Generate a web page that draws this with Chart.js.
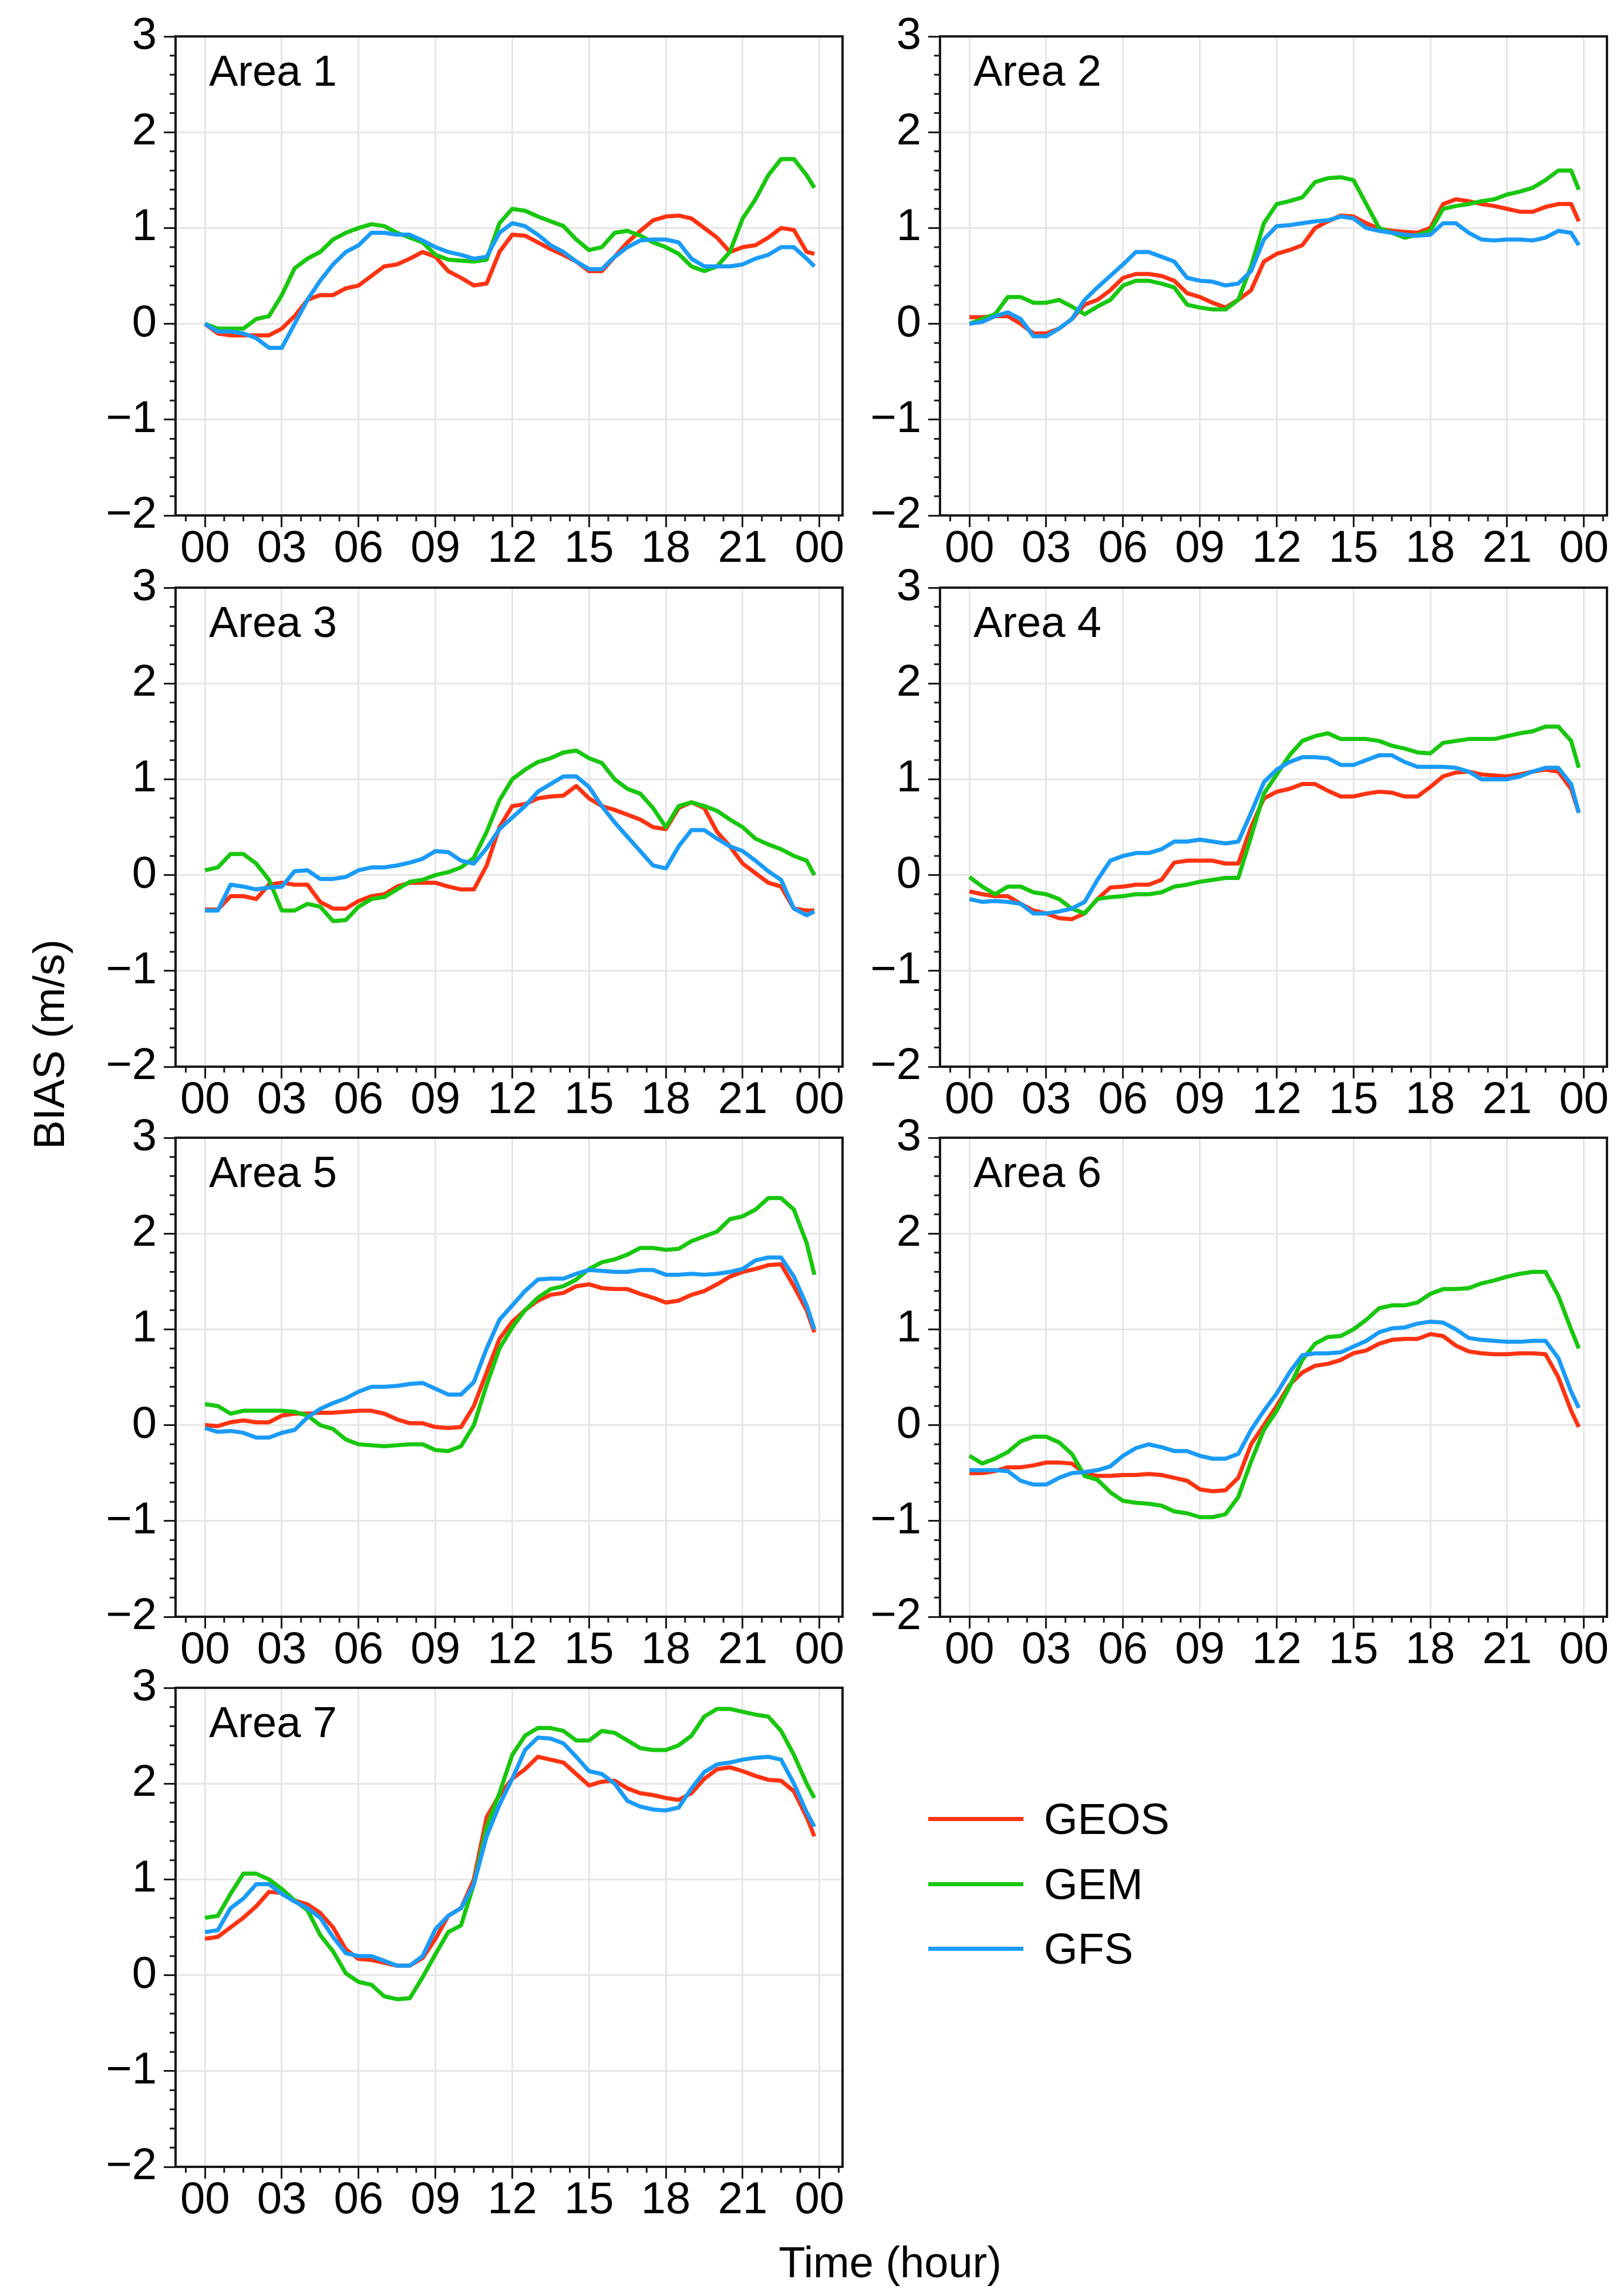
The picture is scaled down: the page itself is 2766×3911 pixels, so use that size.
<!DOCTYPE html>
<html>
<head>
<meta charset="utf-8">
<script src="https://cdn.jsdelivr.net/npm/chart.js@4.4.1/dist/chart.umd.min.js"></script>
<style>
  body { margin: 0; background: #fff; width: 2766px; height: 3911px; position: relative; overflow: hidden;
         font-family: 'Liberation Sans', Arial, sans-serif; }
  .panel { position: absolute; }
  .txt { position: absolute; font-size: 74px; line-height: 74px; color: #000; white-space: nowrap; }
  .key { position: absolute; height: 7px; width: 162px; }
</style>
</head>
<body>
<script>
// Hour of day (x), shared by every series
const hours = [0, 0.5, 1, 1.5, 2, 2.5, 3, 3.5, 4, 4.5, 5, 5.5, 6, 6.5, 7, 7.5, 8, 8.5, 9, 9.5,
  10, 10.5, 11, 11.5, 12, 12.5, 13, 13.5, 14, 14.5, 15, 15.5, 16, 16.5, 17, 17.5, 18, 18.5, 19, 19.5,
  20, 20.5, 21, 21.5, 22, 22.5, 23, 23.5, 23.8];

const xTicks = [0, 3, 6, 9, 12, 15, 18, 21, 24];
const yTicks = [-2, -1, 0, 1, 2, 3];

const areaNames = ['Area 1', 'Area 2', 'Area 3', 'Area 4', 'Area 5', 'Area 6', 'Area 7'];
const modelNames = ['GEOS', 'GEM', 'GFS'];

const area1Geos = [0,-0.1,-0.12,-0.12,-0.12,-0.12,-0.05,0.08,0.25,0.3,0.3,0.37,0.4,0.5,0.6,0.62,0.68,0.75,0.7,0.55,0.48,0.4,0.42,0.75,0.93,0.92,0.85,0.78,0.72,0.65,0.55,0.55,0.7,0.85,0.97,1.08,1.12,1.13,1.1,1.0,0.9,0.75,0.8,0.82,0.9,1.0,0.98,0.75,0.73];
const area1Gem  = [0,-0.05,-0.05,-0.05,0.05,0.08,0.3,0.58,0.68,0.75,0.88,0.95,1.0,1.04,1.02,0.95,0.9,0.85,0.72,0.67,0.66,0.65,0.67,1.05,1.2,1.18,1.12,1.07,1.02,0.88,0.77,0.8,0.95,0.97,0.92,0.85,0.8,0.73,0.6,0.55,0.6,0.75,1.1,1.3,1.55,1.72,1.72,1.55,1.42];
const area1Gfs  = [0,-0.08,-0.08,-0.1,-0.15,-0.25,-0.25,0.0,0.25,0.45,0.62,0.75,0.82,0.95,0.95,0.93,0.93,0.87,0.8,0.75,0.72,0.68,0.7,0.95,1.05,1.02,0.93,0.82,0.75,0.65,0.57,0.57,0.7,0.8,0.87,0.88,0.88,0.85,0.68,0.6,0.6,0.6,0.62,0.68,0.72,0.8,0.8,0.68,0.6];

const area2Geos = [0.07,0.07,0.08,0.08,0.0,-0.1,-0.1,-0.05,0.05,0.2,0.25,0.35,0.48,0.52,0.52,0.5,0.45,0.32,0.28,0.22,0.17,0.25,0.35,0.65,0.73,0.77,0.82,1.0,1.07,1.13,1.12,1.05,0.99,0.97,0.96,0.95,1.0,1.25,1.3,1.28,1.25,1.23,1.2,1.17,1.17,1.22,1.25,1.25,1.07];
const area2Gem  = [0.0,0.05,0.1,0.28,0.28,0.22,0.22,0.25,0.18,0.1,0.18,0.25,0.4,0.45,0.45,0.42,0.38,0.2,0.17,0.15,0.15,0.25,0.6,1.05,1.25,1.28,1.32,1.48,1.52,1.53,1.5,1.25,1.0,0.95,0.9,0.93,0.97,1.2,1.23,1.25,1.28,1.3,1.35,1.38,1.42,1.5,1.6,1.6,1.4];
const area2Gfs  = [0.0,0.02,0.08,0.12,0.05,-0.13,-0.13,-0.05,0.05,0.25,0.38,0.5,0.62,0.75,0.75,0.7,0.65,0.48,0.45,0.44,0.4,0.42,0.55,0.88,1.02,1.03,1.05,1.07,1.08,1.12,1.1,1.0,0.97,0.95,0.93,0.92,0.93,1.05,1.05,0.95,0.88,0.87,0.88,0.88,0.87,0.9,0.97,0.95,0.82];

const area3Geos = [-0.36,-0.36,-0.22,-0.22,-0.25,-0.1,-0.08,-0.1,-0.1,-0.28,-0.35,-0.35,-0.27,-0.22,-0.2,-0.12,-0.08,-0.08,-0.08,-0.12,-0.15,-0.15,0.1,0.5,0.72,0.74,0.8,0.82,0.83,0.93,0.8,0.72,0.68,0.63,0.58,0.5,0.48,0.7,0.76,0.7,0.45,0.3,0.12,0.02,-0.08,-0.12,-0.35,-0.37,-0.37];
const area3Gem  = [0.05,0.08,0.22,0.22,0.12,-0.05,-0.37,-0.37,-0.3,-0.33,-0.48,-0.47,-0.33,-0.25,-0.23,-0.15,-0.07,-0.05,0.0,0.03,0.08,0.18,0.45,0.78,1.0,1.1,1.18,1.22,1.28,1.3,1.22,1.17,1.0,0.9,0.85,0.7,0.5,0.72,0.76,0.72,0.67,0.58,0.5,0.38,0.32,0.27,0.2,0.15,0.0];
const area3Gfs  = [-0.37,-0.37,-0.1,-0.12,-0.15,-0.13,-0.12,0.04,0.05,-0.04,-0.04,-0.02,0.05,0.08,0.08,0.1,0.13,0.17,0.25,0.24,0.15,0.12,0.28,0.48,0.6,0.72,0.87,0.95,1.03,1.03,0.92,0.72,0.55,0.4,0.25,0.1,0.07,0.3,0.47,0.47,0.38,0.3,0.25,0.15,0.04,-0.05,-0.35,-0.42,-0.38];

const area4Geos = [-0.17,-0.2,-0.22,-0.22,-0.3,-0.37,-0.4,-0.45,-0.46,-0.4,-0.25,-0.13,-0.12,-0.1,-0.1,-0.05,0.13,0.15,0.15,0.15,0.12,0.12,0.5,0.8,0.87,0.9,0.95,0.95,0.88,0.82,0.82,0.85,0.87,0.86,0.82,0.82,0.92,1.03,1.07,1.08,1.05,1.04,1.03,1.05,1.08,1.1,1.08,0.9,0.65];
const area4Gem  = [-0.02,-0.12,-0.2,-0.12,-0.12,-0.18,-0.2,-0.25,-0.35,-0.4,-0.25,-0.23,-0.22,-0.2,-0.2,-0.18,-0.12,-0.1,-0.07,-0.05,-0.03,-0.03,0.4,0.85,1.05,1.25,1.4,1.45,1.48,1.42,1.42,1.42,1.4,1.35,1.32,1.28,1.27,1.38,1.4,1.42,1.42,1.42,1.45,1.48,1.5,1.55,1.55,1.4,1.12];
const area4Gfs  = [-0.25,-0.28,-0.27,-0.28,-0.3,-0.4,-0.4,-0.38,-0.35,-0.28,-0.05,0.15,0.2,0.23,0.23,0.27,0.35,0.35,0.37,0.35,0.33,0.35,0.65,0.97,1.1,1.18,1.23,1.23,1.22,1.15,1.15,1.2,1.25,1.25,1.18,1.13,1.13,1.13,1.12,1.08,1.0,1.0,1.0,1.03,1.08,1.12,1.12,0.95,0.65];

const area5Geos = [0.0,-0.01,0.03,0.05,0.03,0.03,0.1,0.12,0.12,0.13,0.13,0.14,0.15,0.15,0.12,0.06,0.02,0.02,-0.02,-0.03,-0.02,0.2,0.55,0.9,1.08,1.2,1.3,1.36,1.38,1.45,1.47,1.43,1.42,1.42,1.37,1.33,1.28,1.3,1.36,1.4,1.47,1.55,1.6,1.63,1.67,1.68,1.45,1.2,0.97];
const area5Gem  = [0.22,0.2,0.12,0.15,0.15,0.15,0.15,0.14,0.1,0.0,-0.04,-0.15,-0.2,-0.21,-0.22,-0.21,-0.2,-0.2,-0.26,-0.27,-0.22,0.0,0.42,0.8,1.02,1.2,1.33,1.42,1.45,1.52,1.63,1.7,1.73,1.78,1.85,1.85,1.83,1.84,1.92,1.97,2.02,2.15,2.18,2.25,2.37,2.37,2.25,1.9,1.57];
const area5Gfs  = [-0.03,-0.07,-0.06,-0.08,-0.13,-0.13,-0.08,-0.05,0.08,0.17,0.23,0.28,0.35,0.4,0.4,0.41,0.43,0.44,0.38,0.32,0.32,0.45,0.8,1.1,1.25,1.4,1.52,1.53,1.53,1.58,1.62,1.61,1.6,1.6,1.62,1.62,1.57,1.57,1.58,1.57,1.58,1.6,1.63,1.72,1.75,1.75,1.55,1.25,1.0];

const area6Geos = [-0.5,-0.5,-0.48,-0.44,-0.44,-0.42,-0.39,-0.39,-0.4,-0.5,-0.53,-0.53,-0.52,-0.52,-0.51,-0.52,-0.55,-0.58,-0.67,-0.69,-0.68,-0.55,-0.2,0.0,0.2,0.42,0.55,0.62,0.64,0.68,0.75,0.78,0.85,0.89,0.9,0.9,0.95,0.93,0.83,0.77,0.75,0.74,0.74,0.75,0.75,0.74,0.5,0.15,-0.02];
const area6Gem  = [-0.32,-0.4,-0.35,-0.28,-0.17,-0.12,-0.12,-0.18,-0.3,-0.53,-0.57,-0.7,-0.79,-0.81,-0.82,-0.84,-0.9,-0.92,-0.96,-0.96,-0.93,-0.75,-0.38,-0.05,0.15,0.4,0.68,0.85,0.92,0.93,1.0,1.1,1.22,1.25,1.25,1.28,1.37,1.42,1.42,1.43,1.48,1.51,1.55,1.58,1.6,1.6,1.35,1.0,0.8];
const area6Gfs  = [-0.47,-0.47,-0.47,-0.48,-0.58,-0.62,-0.62,-0.55,-0.5,-0.49,-0.47,-0.43,-0.32,-0.24,-0.2,-0.23,-0.27,-0.27,-0.32,-0.35,-0.35,-0.3,-0.05,0.15,0.33,0.55,0.73,0.75,0.75,0.76,0.82,0.88,0.97,1.01,1.02,1.06,1.08,1.07,1.0,0.91,0.89,0.88,0.87,0.87,0.88,0.88,0.7,0.35,0.18];

const area7Geos = [0.38,0.4,0.5,0.6,0.72,0.87,0.86,0.78,0.74,0.65,0.5,0.27,0.17,0.16,0.13,0.1,0.1,0.18,0.38,0.62,0.7,1.0,1.65,1.88,2.05,2.15,2.28,2.25,2.22,2.1,1.98,2.02,2.03,1.95,1.9,1.88,1.85,1.83,1.9,2.05,2.15,2.17,2.13,2.08,2.04,2.03,1.92,1.65,1.45];
const area7Gem  = [0.6,0.62,0.85,1.06,1.06,1.0,0.9,0.78,0.68,0.42,0.25,0.02,-0.07,-0.1,-0.22,-0.25,-0.24,-0.02,0.22,0.45,0.52,0.95,1.55,1.9,2.3,2.5,2.58,2.58,2.55,2.45,2.45,2.55,2.53,2.45,2.37,2.35,2.35,2.4,2.5,2.7,2.78,2.78,2.75,2.72,2.7,2.55,2.3,2.0,1.85];
const area7Gfs  = [0.45,0.47,0.7,0.8,0.95,0.95,0.85,0.77,0.7,0.6,0.4,0.23,0.2,0.2,0.15,0.1,0.1,0.2,0.48,0.62,0.7,0.95,1.45,1.78,2.05,2.35,2.48,2.47,2.42,2.28,2.13,2.1,2.0,1.82,1.76,1.73,1.72,1.75,1.95,2.12,2.2,2.22,2.25,2.27,2.28,2.25,2.0,1.7,1.55];

const geosSeries = [area1Geos, area2Geos, area3Geos, area4Geos, area5Geos, area6Geos, area7Geos];
const gemSeries  = [area1Gem, area2Gem, area3Gem, area4Gem, area5Gem, area6Gem, area7Gem];
const gfsSeries  = [area1Gfs, area2Gfs, area3Gfs, area4Gfs, area5Gfs, area6Gfs, area7Gfs];

// Layout (page pixels)
const colLeft = [299, 1601];
const rowTop = [62, 1001, 1938, 2875];
const plotW = 1136;
const plotH = 816;
const padL = 180, padT = 60, padR = 60, padB = 130;

const modelColors = ['#ff3311', '#18c70e', '#1a9bf8'];
const gridColor = '#e6e6e6';
const inkColor = '#1a1a1a';

Chart.defaults.font.family = "'Liberation Sans', Arial, sans-serif";
Chart.defaults.color = '#000';

function addText(str, left, top, extra) {
  const d = document.createElement('div');
  d.className = 'txt';
  d.textContent = str;
  d.style.left = left + 'px';
  d.style.top = top + 'px';
  if (extra) Object.assign(d.style, extra);
  document.body.appendChild(d);
  return d;
}

/**
 * Minor ticks plus the closed frame around the plot area.
 */
const framePlugin = {
  id: 'frame',
  afterDraw(chart) {
    const { ctx, chartArea: a } = chart;
    const x = chart.scales.x, y = chart.scales.y;
    ctx.save();
    ctx.strokeStyle = inkColor;
    ctx.lineWidth = 3;
    ctx.beginPath();
    for (let k = -2; k <= 34; k++) {
      const v = k * 0.75;
      if (k % 4 === 0 || v < x.min || v > x.max) continue;
      const px = x.getPixelForValue(v);
      ctx.moveTo(px, a.bottom);
      ctx.lineTo(px, a.bottom + 10);
    }
    for (let k = -10; k <= 15; k++) {
      if (k % 5 === 0) continue;
      const py = y.getPixelForValue(k * 0.2);
      ctx.moveTo(a.left - 10, py);
      ctx.lineTo(a.left, py);
    }
    ctx.stroke();
    ctx.lineWidth = 4;
    ctx.strokeRect(a.left, a.top, a.right - a.left, a.bottom - a.top);
    ctx.restore();
  }
};

function makePanel(i) {
  const col = i % 2, row = Math.floor(i / 2);
  const left = colLeft[col], top = rowTop[row];
  const wrap = document.createElement('div');
  wrap.className = 'panel';
  wrap.style.left = (left - padL) + 'px';
  wrap.style.top = (top - padT) + 'px';
  const cv = document.createElement('canvas');
  const w = padL + plotW + padR, h = padT + plotH + padB;
  cv.width = w; cv.height = h;
  cv.style.width = w + 'px'; cv.style.height = h + 'px';
  wrap.appendChild(cv);
  document.body.appendChild(wrap);

  const series = [geosSeries[i], gemSeries[i], gfsSeries[i]];
  const datasets = series.map((vals, k) => ({
    label: modelNames[k],
    data: hours.map((hr, j) => ({ x: hr, y: vals[j] })),
    borderColor: modelColors[k],
    borderWidth: 7,
    borderJoinStyle: 'round',
    pointRadius: 0,
    tension: 0,
    fill: false,
    order: 3 - k,
  }));

  new Chart(cv.getContext('2d'), {
    type: 'line',
    data: { datasets },
    options: {
      responsive: false,
      devicePixelRatio: 1,
      animation: false,
      layout: { padding: { left: 0, top: padT, right: padR, bottom: 0 } },
      plugins: { legend: { display: false }, tooltip: { enabled: false } },
      scales: {
        x: {
          type: 'linear',
          min: -1.15,
          max: 24.9,
          afterBuildTicks: axis => { axis.ticks = xTicks.map(v => ({ value: v })); },
          afterFit: axis => { axis.height = padB; },
          ticks: {
            autoSkip: false,
            maxRotation: 0,
            padding: 0,
            font: { size: 76, lineHeight: 1 },
            callback: v => String(v % 24).padStart(2, '0'),
          },
          grid: { color: gridColor, lineWidth: 3, tickColor: inkColor, tickWidth: 3, tickLength: 20 },
          border: { display: false },
        },
        y: {
          min: -2,
          max: 3,
          afterBuildTicks: axis => { axis.ticks = yTicks.map(v => ({ value: v })); },
          afterFit: axis => { axis.width = padL; },
          ticks: {
            padding: 12,
            font: { size: 76, lineHeight: 1 },
            callback: v => (v < 0 ? '\u2212' + Math.abs(v) : String(v)),
          },
          grid: { color: gridColor, lineWidth: 3, tickColor: inkColor, tickWidth: 3, tickLength: 20 },
          border: { display: false },
        },
      },
    },
    plugins: [framePlugin],
  });

  addText(areaNames[i], left + 57, top + 22);
}

for (let i = 0; i < areaNames.length; i++) makePanel(i);

// Legend in the empty eighth slot
const legendY = [3098, 3209, 3319];
modelNames.forEach((name, k) => {
  const line = document.createElement('div');
  line.className = 'key';
  line.style.left = '1581px';
  line.style.top = (legendY[k] - 3) + 'px';
  line.style.background = modelColors[k];
  document.body.appendChild(line);
  addText(name, 1778, legendY[k] - 36);
});

// Shared axis titles
addText('Time (hour)', 1016, 3817, { width: '1000px', textAlign: 'center' });
addText('BIAS (m/s)', 84 - 300, 1779 - 37, { width: '600px', textAlign: 'center', transform: 'rotate(-90deg)' });
</script>
</body>
</html>
